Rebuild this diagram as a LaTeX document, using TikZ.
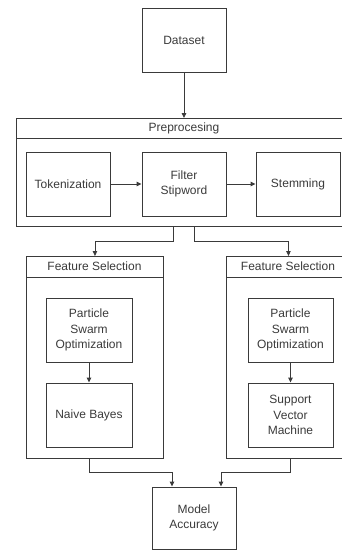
\documentclass[tikz,border=0pt]{standalone}
\usepackage{fontspec}
\setmainfont{Liberation Sans}
\usetikzlibrary{arrows.meta,calc}
\definecolor{ink}{HTML}{3A3A3A}
\begin{document}
\begin{tikzpicture}[x=1pt,y=-1pt,
  line width=0.9pt,
  every node/.style={text=ink, font=\fontsize{12}{15.5}\selectfont},
  box/.style={draw=ink, rectangle, inner sep=2pt, align=center,
              minimum width=84pt, minimum height=64pt},
  frame/.style={draw=ink, rectangle, inner sep=0pt, anchor=north west},
  arr/.style={draw=ink, -{Triangle[length=5pt,width=4.5pt]}}]
\useasboundingbox (0,0) rectangle (342,550);
\clip (0,0) rectangle (342,550);

% top input
\node[box] (data) at (184,40) {Dataset};

% preprocessing stage
\node[frame, minimum width=340pt, minimum height=108pt] (pre) at (16,118) {};
\draw[ink] (16,138) -- (356,138);
\node (pretitle) at (184,128) {Preprocesing};
\node[box] (tok) at (68,184) {Tokenization};
\node[box] (fil) at (184,184) {Filter\\Stipword};
\node[box] (stem) at (298,184) {Stemming};

% feature selection branches
\node[frame, minimum width=137pt, minimum height=202pt] (fs1) at (26,256) {};
\draw[ink] (26,277) -- (163,277);
\node (fs1title) at (94.5,266.5) {Feature Selection};
\node[box, minimum width=86pt] (pso1) at (89,330) {Particle\\Swarm\\Optimization};
\node[box, minimum width=86pt] (nb) at (89,415) {Naive Bayes};

\node[frame, minimum width=124pt, minimum height=202pt] (fs2) at (226,256) {};
\draw[ink] (226,277) -- (350,277);
\node (fs2title) at (288,266.5) {Feature Selection};
\node[box, minimum width=85pt] (pso2) at (290.5,330) {Particle\\Swarm\\Optimization};
\node[box, minimum width=85pt] (svm) at (290.5,415) {Support\\Vector\\Machine};

% result
\node[box, minimum height=62pt] (acc) at (194,518) {Model\\Accuracy};

% connectors
\draw[arr] (data.south) -- (data.south |- pre.north);
\draw[arr] (tok) -- (fil);
\draw[arr] (fil) -- (stem);

\coordinate (s1) at (173,226);
\coordinate (s2) at (194,226);
\draw[arr] (s1) -- ++(0,15) -| (fs1.north);
\draw[arr] (s2) -- ++(0,15) -| (fs2.north);

\draw[arr] (pso1) -- (nb);
\draw[arr] (pso2) -- (svm);

\draw[arr] (nb |- fs1.south) -- ++(0,14) -| ([xshift=-22pt]acc.north);
\draw[arr] (svm |- fs2.south) -- ++(0,14) -| ([xshift=27pt]acc.north);
\end{tikzpicture}
\end{document}
